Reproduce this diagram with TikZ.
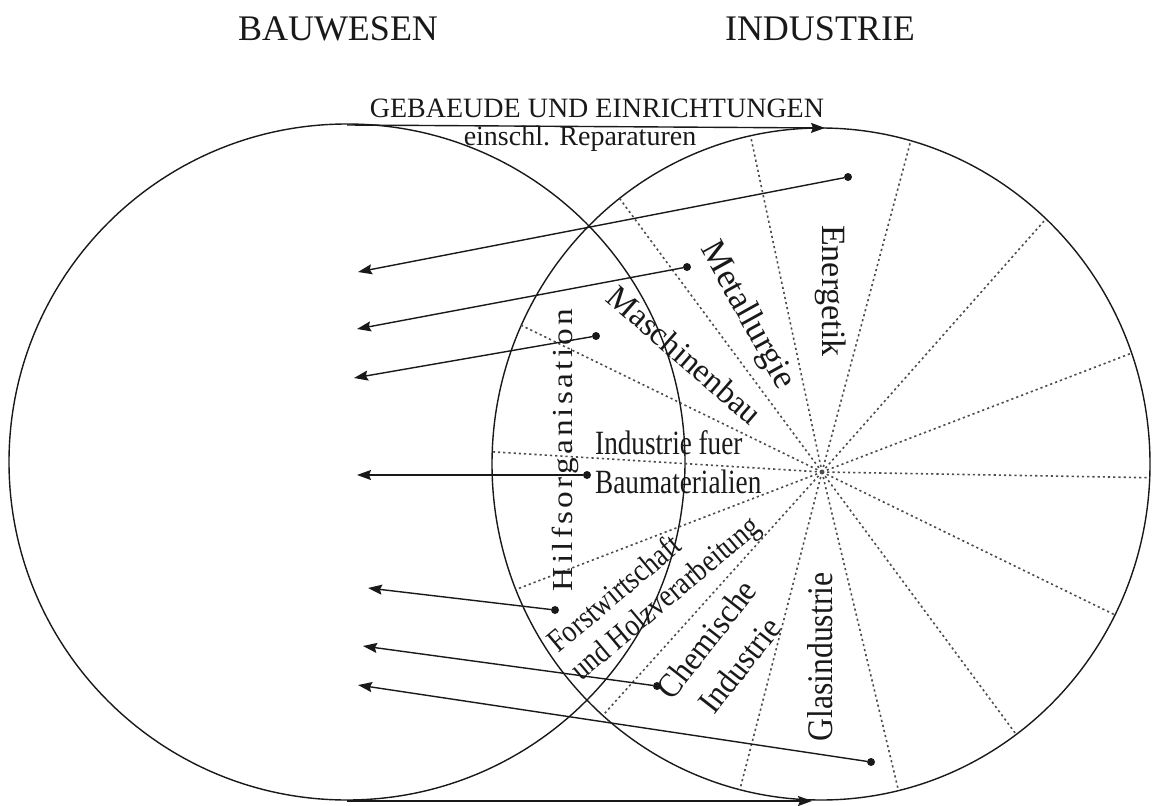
\documentclass[tikz,border=0pt]{standalone}
\usepackage{fontspec}
\setmainfont{Liberation Serif}
\newfontfamily\condA[FakeStretch=0.80]{Liberation Serif}
\newfontfamily\condB[FakeStretch=0.84]{Liberation Serif}
\newfontfamily\condC[FakeStretch=0.92]{Liberation Serif}
\newfontfamily\condD[FakeStretch=0.88]{Liberation Serif}
\newfontfamily\spacedfont[FakeStretch=1.15,LetterSpace=11]{Liberation Serif}
\usetikzlibrary{arrows.meta}
\begin{document}
\begin{tikzpicture}[x=1pt,y=-1pt,
  circ/.style={line width=1.4pt, black!90},
  ray/.style={line width=1.6pt, dash pattern=on 2.2pt off 3pt, black!70},
  flow/.style={line width=1.4pt, black!90, -{Stealth[length=14pt,width=10pt,inset=2pt]}},
  dotnode/.style={circle, fill=black!90, inner sep=0pt, minimum size=8pt},
  lbl/.style={inner sep=0pt, text=black!90},
  title/.style={lbl, font=\fontsize{36}{40}\selectfont},
  head/.style={lbl, font=\fontsize{28}{32}\selectfont}
]
\useasboundingbox (0,0) rectangle (1155,805);

% circles
\draw[circ] (347,462) circle [radius=338pt];
\draw[circ] (821,464) ellipse [x radius=329pt, y radius=336pt];

% rays of the industry circle
\coordinate (C) at (822,472);
\begin{scope}
  \clip (821,464) ellipse [x radius=329pt, y radius=336pt];
  \foreach \a in {-1,21,48.5,75,102,126.5,154,176.5,201,228,255.5,283.5,306.5,334}
    \draw[ray] (C) -- ++(\a:500pt);
\end{scope}

% titles
\node[title, anchor=base] (bau) at (338,41) {BAUWESEN};
\node[title, anchor=base] (ind) at (820,41) {INDUSTRIE};

% top and bottom arrows
\coordinate (Ltop) at (347,125);
\coordinate (Rtop) at (825,128);
\draw[flow] (Ltop) -- (Rtop);
\node[head, anchor=base] (geb) at (597,118) {GEBAEUDE UND EINRICHTUNGEN};
\node[head, anchor=base] (ein) at (580,146) {einschl. Reparaturen};
\coordinate (Lbot) at (347,801);
\coordinate (Rbot) at (812,801);
\draw[flow] (Lbot) -- (Rbot);

% sector labels
\node[lbl, rotate=-90, anchor=base, font=\fontsize{34}{38}\selectfont] (energ) at (822,291) {Energetik};
\node[lbl, rotate=-61, font=\fontsize{35}{38}\selectfont] (metall) at (747,316) {Metallurgie};
\node[lbl, rotate=-41, font=\fontsize{33}{36}\selectfont] (masch) at (685,355) {Maschinenbau};
\node[lbl, rotate=90, anchor=base, font=\spacedfont\fontsize{29}{32}\selectfont] (hilf) at (572,450) {Hilfsorganisation};
\node[lbl, anchor=north west, align=left, font=\condA\fontsize{34}{39}\selectfont] (baum) at (595,430) {Industrie fuer\\Baumaterialien};
\node[lbl, rotate=40, align=left, font=\condB\fontsize{32}{36}\selectfont] (forst) at (655,586) {Forstwirtschaft\\und Holzverarbeitung};
\node[lbl, rotate=52, align=center, font=\condC\fontsize{34}{42}\selectfont] (chem) at (723,652) {Chemische\\Industrie};
\node[lbl, rotate=90, anchor=base, font=\condD\fontsize{36}{40}\selectfont] (glas) at (832,657) {Glasindustrie};

% flows from industry to construction
\node[dotnode] (d1) at (848,177) {};
\node[dotnode] (d2) at (687,267) {};
\node[dotnode] (d3) at (596,336) {};
\node[dotnode] (d4) at (587,475) {};
\node[dotnode] (d5) at (555,610) {};
\node[dotnode] (d6) at (657,686) {};
\node[dotnode] (d7) at (871,762) {};
\coordinate (t1) at (358,272);
\coordinate (t2) at (357,329);
\coordinate (t3) at (354,378);
\coordinate (t4) at (357,475);
\coordinate (t5) at (368,588);
\coordinate (t6) at (363,646);
\coordinate (t7) at (358,685);
\foreach \i in {1,...,7}
  \draw[flow] (d\i) -- (t\i);
\end{tikzpicture}
\end{document}
